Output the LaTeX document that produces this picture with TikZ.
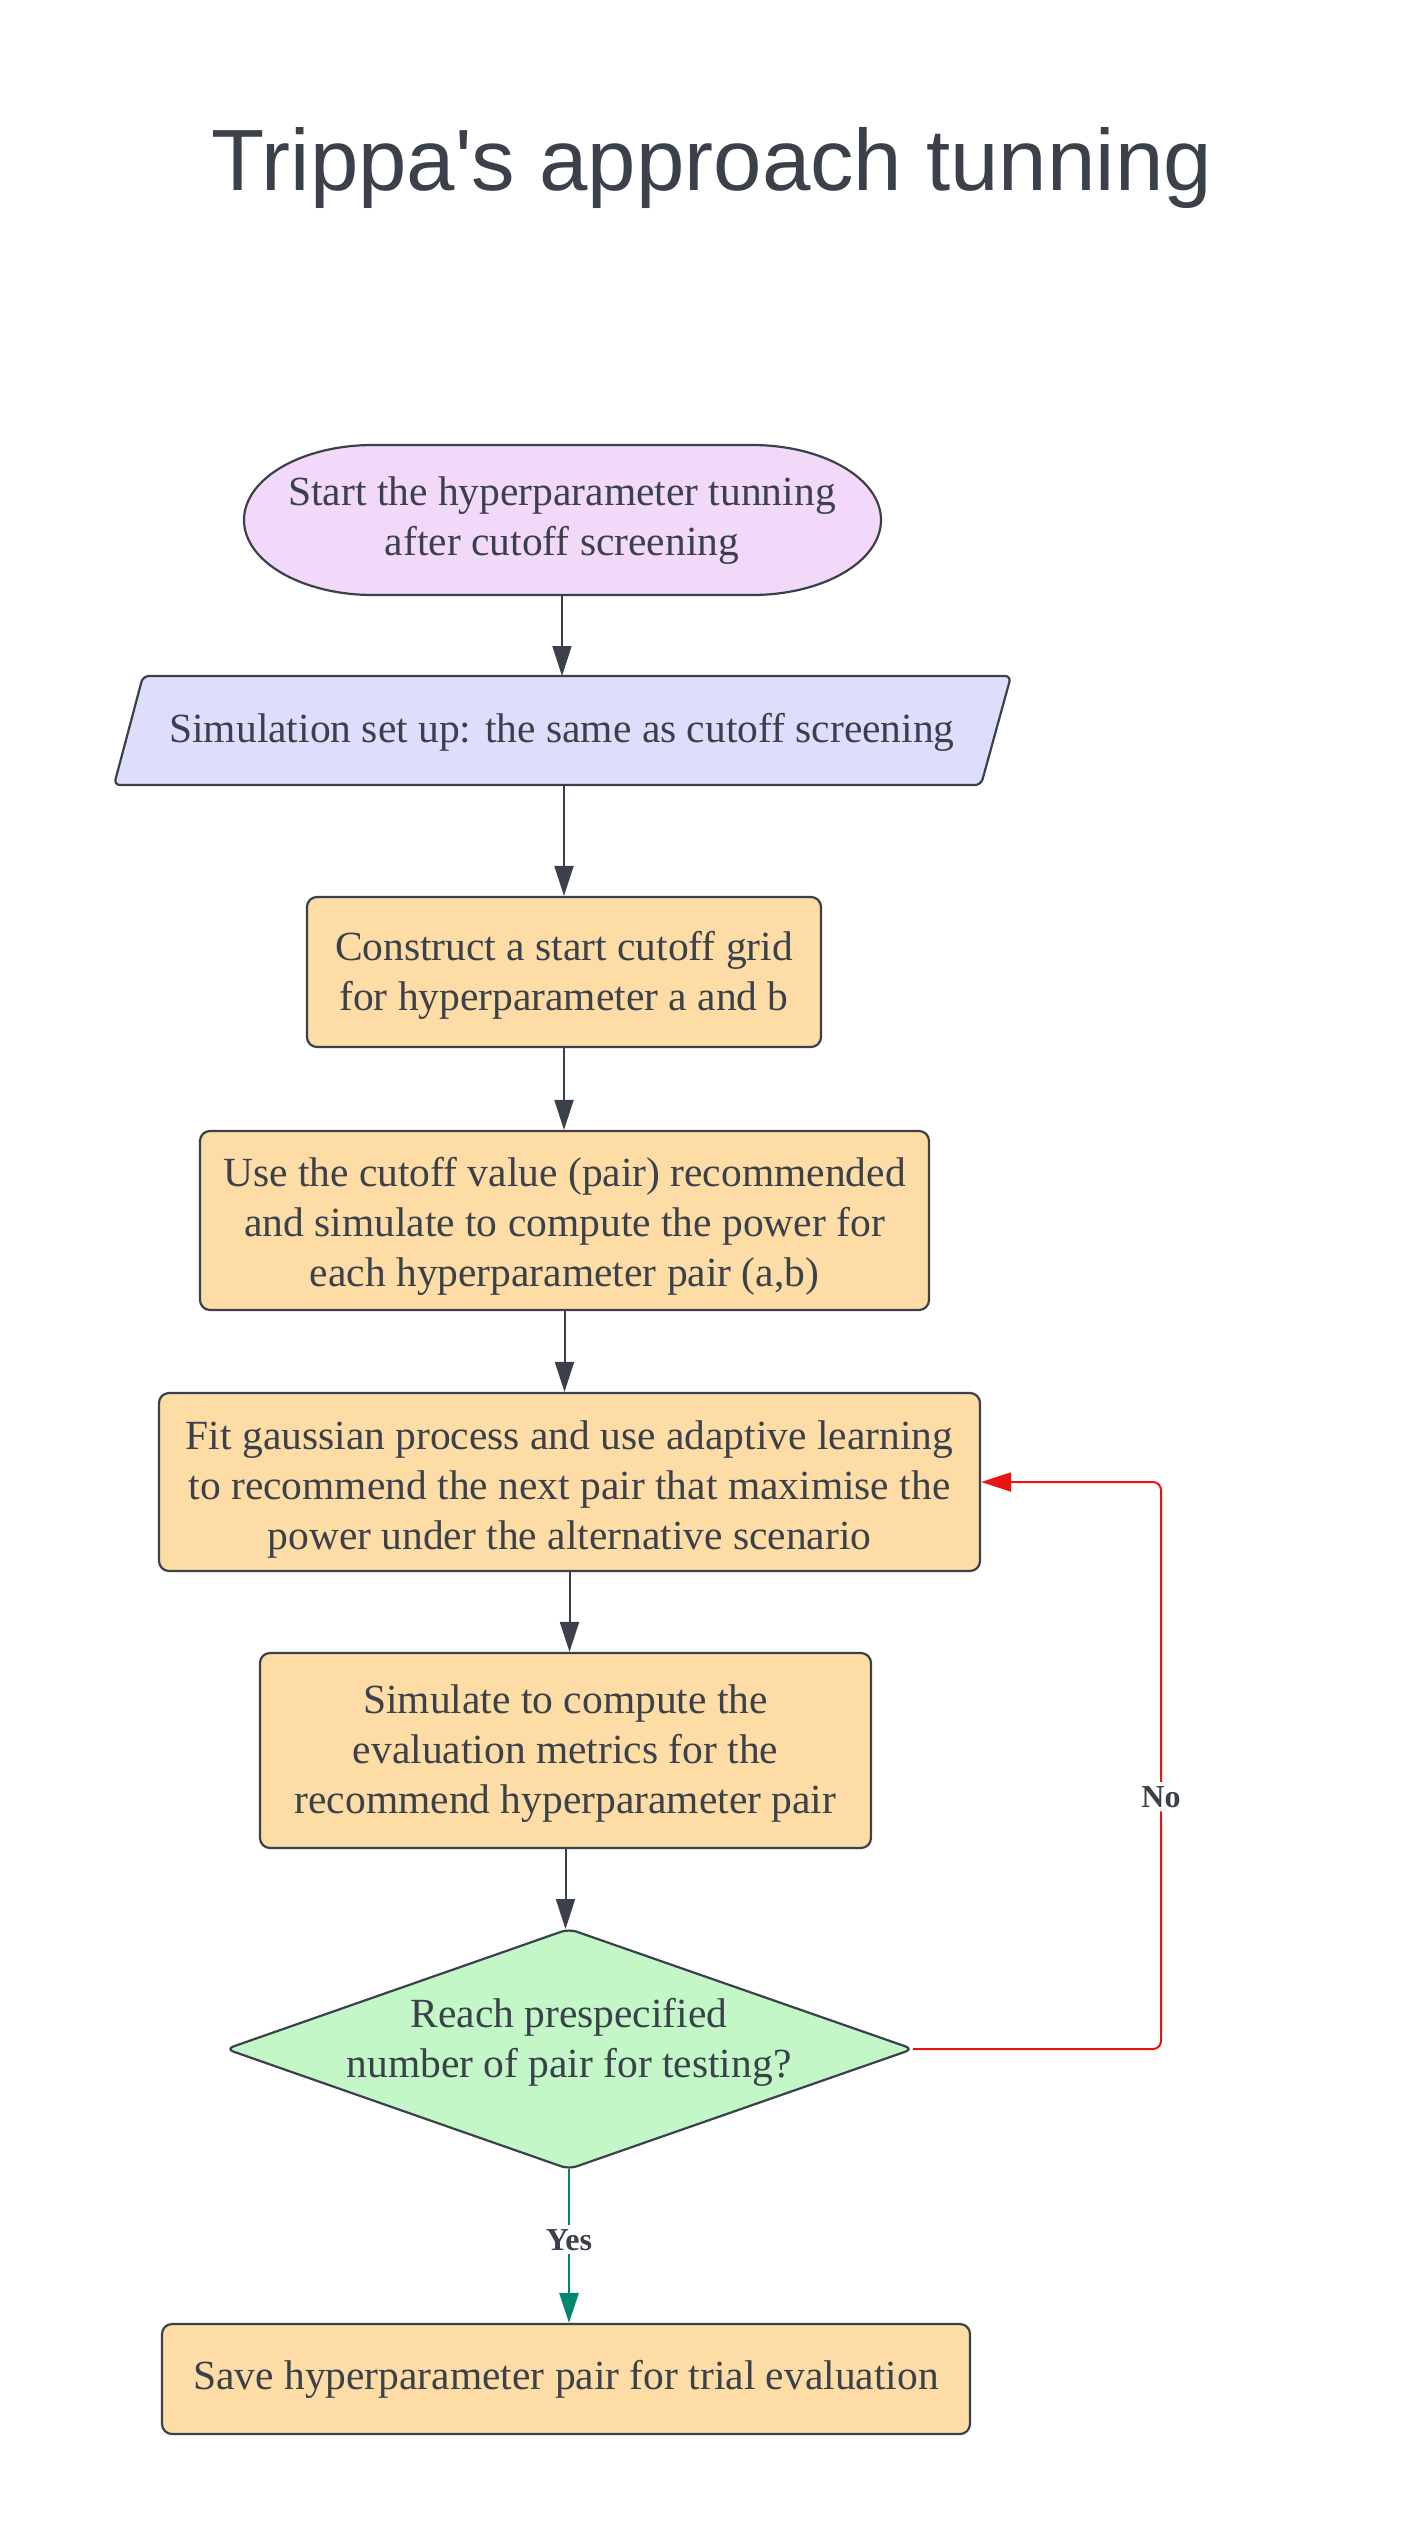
\documentclass[tikz,border=0pt]{standalone}
\usepackage{fontspec}
\setmainfont{Liberation Serif}
\newfontfamily\titlefont{Liberation Sans}
\usetikzlibrary{arrows.meta}
\definecolor{textc}{HTML}{3A414A}
\definecolor{startfill}{HTML}{F2D9FA}
\definecolor{simfill}{HTML}{DCDEFB}
\definecolor{boxfill}{HTML}{FDDCA5}
\definecolor{decfill}{HTML}{C3F7C8}
\definecolor{nored}{HTML}{E81313}
\definecolor{yesgreen}{HTML}{00876D}
\begin{document}
\begin{tikzpicture}[x=1pt,y=1pt,
  shapeline/.style={draw=textc, line width=2.2pt},
  txt/.style={text=textc, align=center, inner sep=0pt, font=\fontsize{41.5}{50}\selectfont},
  procbox/.style={shapeline, fill=boxfill, rounded corners=10pt, inner sep=0pt},
  conn/.style={draw=textc, line width=2pt, -{Triangle[length=30pt,width=19pt]}},
  lbl/.style={fill=white, inner sep=4pt, text=textc, font=\fontsize{32}{38}\selectfont\bfseries}
]
\useasboundingbox (0,0) rectangle (1425,-2548);
\fill[white] (0,0) rectangle (1425,-2548);

% title
\node[anchor=base, text=textc, inner sep=0pt, font=\titlefont\fontsize{87}{100}\selectfont] (title) at (712,-190) {Trippa's approach tunning};

% start terminator
\draw[shapeline, fill=startfill] (373,-445) -- (752,-445)
  arc[start angle=90, end angle=-90, x radius=129, y radius=75]
  -- (373,-595)
  arc[start angle=270, end angle=90, x radius=129, y radius=75] -- cycle;
\node[txt] (start) at (562,-521) {Start the hyperparameter tunning\\after cutoff screening};
\coordinate (startbot) at (562,-595);

% simulation set up (parallelogram)
\draw[shapeline, fill=simfill, rounded corners=6pt] (143,-676) -- (1011,-676) -- (981,-785) -- (114,-785) -- cycle;
\node[txt] (sim) at (562,-732) {Simulation set up: the same as cutoff screening};
\coordinate (simtop) at (562,-676);
\coordinate (simbot) at (564,-785);

% process boxes
\node[procbox, minimum width=514pt, minimum height=150pt] (b1) at (564,-972) {};
\node[txt] (b1t) at ([yshift=-3pt]b1.center) {Construct a start cutoff grid\\for hyperparameter a and b};
\node[procbox, minimum width=729pt, minimum height=179pt] (b2) at (564.5,-1220.5) {};
\node[txt] (b2t) at ([yshift=-6pt]b2.center) {Use the cutoff value (pair) recommended\\and simulate to compute the power for\\each hyperparameter pair (a,b)};
\node[procbox, minimum width=821pt, minimum height=178pt] (b3) at (569.5,-1482) {};
\node[txt] (b3t) at ([yshift=-8pt]b3.center) {Fit gaussian process and use adaptive learning\\to recommend the next pair that maximise the\\power under the alternative scenario};
\node[procbox, minimum width=611pt, minimum height=195pt] (b4) at (565.5,-1750.5) {};
\node[txt] (b4t) at ([yshift=-3pt]b4.center) {Simulate to compute the\\evaluation metrics for the\\recommend hyperparameter pair};

% decision diamond
\draw[shapeline, fill=decfill, rounded corners=8pt] (569,-1929) -- (913,-2049) -- (569,-2169) -- (226,-2049) -- cycle;
\node[txt] (dec) at (569,-2042) {Reach prespecified\\number of pair for testing?};
\coordinate (dectop) at (569,-1929);
\coordinate (decright) at (913,-2049);
\coordinate (decbot) at (569,-2169);

% final box
\node[procbox, minimum width=808pt, minimum height=110pt] (final) at (566,-2379) {};
\node[txt] (finalt) at (final.center) {Save hyperparameter pair for trial evaluation};

% connectors
\draw[conn] (startbot) -- (simtop);
\draw[conn] (simbot) -- (simbot |- b1.north);
\draw[conn] (b1.south) -- (b1.south |- b2.north);
\draw[conn] (b2.south) -- (b2.south |- b3.north);
\draw[conn] (b3.south) -- (b3.south |- b4.north);
\draw[conn] (b4.south) -- (b4.south |- dectop);

\coordinate (nc1) at (1161,-2049);
\coordinate (nc2) at (1161,-1482);
\draw[line width=2pt, draw=nored, rounded corners=8pt, -{Triangle[length=30pt,width=19pt]}]
  (decright) -- (nc1) -- node[lbl, pos=0.445] (nolbl) {No} (nc2) -- (b3.east);

\draw[line width=2.5pt, draw=yesgreen, -{Triangle[length=30pt,width=19pt]}]
  (decbot) -- node[lbl, pos=0.46] (yeslbl) {Yes} (decbot |- final.north);
\end{tikzpicture}
\end{document}
